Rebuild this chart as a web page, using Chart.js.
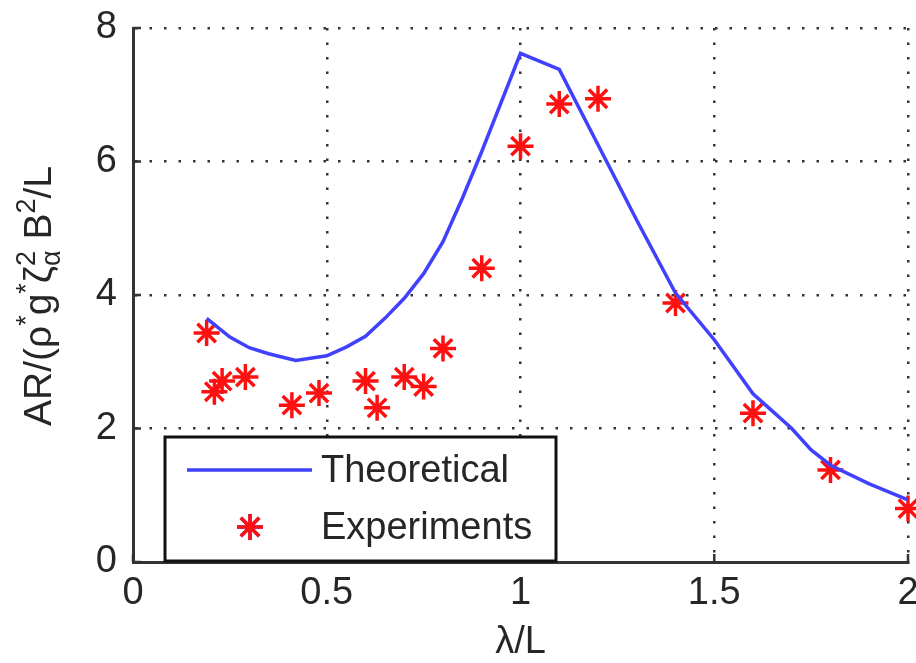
<!DOCTYPE html>
<html>
<head>
<meta charset="utf-8">
<script src="https://cdn.jsdelivr.net/npm/chart.js@4"></script>
<style>
  html, body { margin: 0; padding: 0; background: #fff; }
  canvas { display: block; }
</style>
</head>
<body>
<canvas id="chart" width="916" height="663"></canvas>
<script>
// theoretical curve
const thX = [0.19, 0.25, 0.3, 0.35, 0.42, 0.5, 0.55, 0.6, 0.65, 0.7, 0.75, 0.8, 0.85, 0.9, 1.0, 1.1, 1.2, 1.3, 1.4, 1.5, 1.6, 1.65, 1.7, 1.75, 1.8, 1.9, 2.0];
const thY = [3.65, 3.37, 3.21, 3.12, 3.02, 3.09, 3.22, 3.38, 3.65, 3.95, 4.32, 4.8, 5.45, 6.15, 7.62, 7.38, 6.25, 5.12, 4.03, 3.33, 2.52, 2.26, 2.0, 1.68, 1.45, 1.17, 0.93];

// measured points
const expX = [0.19, 0.21, 0.23, 0.29, 0.41, 0.48, 0.6, 0.63, 0.7, 0.75, 0.8, 0.9, 1.0, 1.1, 1.2, 1.4, 1.6, 1.8, 2.0];
const expY = [3.43, 2.55, 2.71, 2.77, 2.35, 2.53, 2.71, 2.31, 2.77, 2.63, 3.2, 4.4, 6.23, 6.86, 6.94, 3.88, 2.23, 1.38, 0.8];

const xTicks = [0, 0.5, 1, 1.5, 2];
const yTicks = [0, 2, 4, 6, 8];

const FONT = "'Liberation Sans', Arial, sans-serif";
const TEXT = '#262626';
const BLUE = '#4040ff';
const RED = '#ff1010';

const noPad = () => ({ left: 0, top: 0, right: 0, bottom: 0 });

// y-axis title with super/subscripts: AR/(ρ*g*ζ²α B²/L
const yTitleParts = [
  { t: 'AR/(ρ' }, { t: '*', sup: true }, { t: 'g' }, { t: '*', sup: true },
  { t: 'ζ' }, { t: '2', sup: true, stackSub: 'α' }, { t: ' B' }, { t: '2', sup: true }, { t: '/L' }
];

const yTitlePlugin = {
  id: 'yTitle',
  afterDraw(chart) {
    const ctx = chart.ctx;
    const size = 39, small = 27;
    const big = `${size}px ${FONT}`, sm = `${small}px ${FONT}`;
    let total = 0;
    const widths = yTitleParts.map(p => {
      ctx.font = p.sup ? sm : big;
      let w = ctx.measureText(p.t).width;
      if (p.stackSub) w = Math.max(w, ctx.measureText(p.stackSub).width);
      total += w;
      return w;
    });
    ctx.save();
    ctx.translate(51, 296);
    ctx.rotate(-Math.PI / 2);
    ctx.fillStyle = TEXT;
    ctx.textBaseline = 'alphabetic';
    let x = -total / 2;
    yTitleParts.forEach((p, i) => {
      ctx.font = p.sup ? sm : big;
      ctx.fillText(p.t, x, p.sup ? -16 : 0);
      if (p.stackSub) ctx.fillText(p.stackSub, x, 9);
      x += widths[i];
    });
    ctx.restore();
  }
};

// small inward tick marks on the left and bottom axes
const innerTicks = {
  id: 'innerTicks',
  afterDraw(chart) {
    const { ctx, chartArea: a, scales } = chart;
    ctx.save();
    ctx.strokeStyle = '#333';
    ctx.lineWidth = 2.5;
    ctx.beginPath();
    xTicks.forEach(v => {
      const px = scales.x.getPixelForValue(v);
      ctx.moveTo(px, a.bottom);
      ctx.lineTo(px, a.bottom - 8);
    });
    yTicks.forEach(v => {
      const py = scales.y.getPixelForValue(v);
      ctx.moveTo(a.left, py);
      ctx.lineTo(a.left + 8, py);
    });
    ctx.stroke();
    ctx.restore();
  }
};

// boxed legend in the lower-left corner
const boxLegend = {
  id: 'boxLegend',
  afterDraw(chart) {
    const ctx = chart.ctx;
    const ds = chart.data.datasets;
    const L = 165, T = 437, R = 556, B = 561;
    ctx.save();
    ctx.fillStyle = '#fff';
    ctx.fillRect(L, T, R - L, B - T);
    ctx.strokeStyle = '#111';
    ctx.lineWidth = 3;
    ctx.strokeRect(L, T, R - L, B - T);

    ctx.strokeStyle = ds[0].borderColor;
    ctx.lineWidth = ds[0].borderWidth;
    ctx.beginPath();
    ctx.moveTo(187, 470);
    ctx.lineTo(312, 470);
    ctx.stroke();

    Chart.helpers.drawPoint(ctx, {
      pointStyle: 'star', radius: ds[1].pointRadius, borderWidth: ds[1].pointBorderWidth, rotation: 0
    }, 250, 527);
    ctx.strokeStyle = ds[1].pointBorderColor;
    ctx.lineWidth = ds[1].pointBorderWidth;
    ctx.stroke();

    ctx.fillStyle = TEXT;
    ctx.font = `38px ${FONT}`;
    ctx.textBaseline = 'middle';
    ctx.fillText(ds[0].label, 321, 472);
    ctx.fillText(ds[1].label, 321, 529);
    ctx.restore();
  }
};

new Chart(document.getElementById('chart'), {
  type: 'line',
  data: {
    datasets: [
      {
        label: 'Theoretical',
        data: thX.map((x, i) => ({ x, y: thY[i] })),
        borderColor: BLUE,
        borderWidth: 3.5,
        pointRadius: 0,
        tension: 0,
        fill: false
      },
      {
        type: 'scatter',
        label: 'Experiments',
        data: expX.map((x, i) => ({ x, y: expY[i] })),
        showLine: false,
        pointStyle: 'star',
        pointRadius: 13,
        pointBorderWidth: 3.5,
        pointBorderColor: RED,
        pointBackgroundColor: RED,
        borderColor: RED,
        clip: false
      }
    ]
  },
  options: {
    responsive: false,
    animation: false,
    layout: { autoPadding: false, padding: { top: 28, right: 8, left: 0, bottom: 0 } },
    plugins: { legend: { display: false }, tooltip: { enabled: false } },
    scales: {
      x: {
        type: 'linear',
        min: 0, max: 2,
        afterBuildTicks: s => { s.ticks = xTicks.map(v => ({ value: v })); },
        afterFit: s => {
          s.height = 101;
          s.paddingLeft = s.paddingRight = s.paddingTop = s.paddingBottom = 0;
          s.getPadding = noPad;
        },
        ticks: { color: TEXT, font: { family: FONT, size: 38 }, padding: 9, maxRotation: 0, callback: v => String(v) },
        grid: { color: '#333', lineWidth: 2.5, drawTicks: false },
        border: { display: true, color: '#333', width: 3, dash: [2.5, 12] },
        title: { display: true, text: 'λ/L', color: TEXT, font: { family: FONT, size: 38, lineHeight: 1 }, padding: { top: 0, bottom: 1 } }
      },
      y: {
        min: 0, max: 8,
        afterBuildTicks: s => { s.ticks = yTicks.map(v => ({ value: v })); },
        afterFit: s => {
          s.width = 133;
          s.paddingLeft = s.paddingRight = s.paddingTop = s.paddingBottom = 0;
          s.getPadding = noPad;
        },
        ticks: { color: TEXT, font: { family: FONT, size: 38 }, padding: 16, callback: v => String(v) },
        grid: { color: '#333', lineWidth: 2.5, drawTicks: false },
        border: { display: true, color: '#333', width: 3, dash: [2.5, 12] }
      }
    }
  },
  plugins: [yTitlePlugin, innerTicks, boxLegend]
});
</script>
</body>
</html>
